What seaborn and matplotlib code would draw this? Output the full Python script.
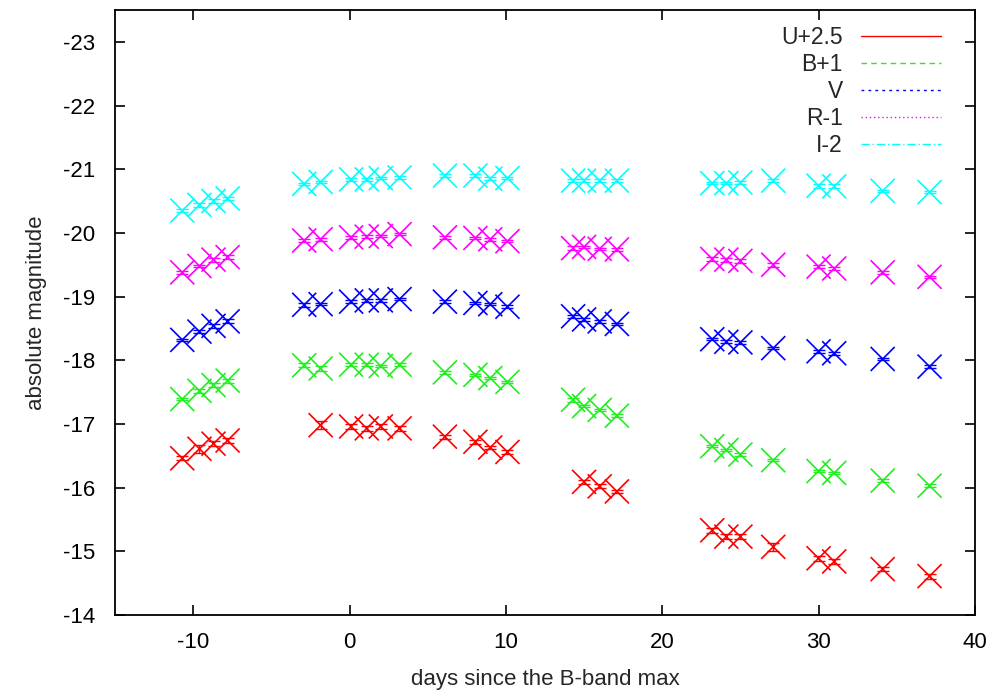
import numpy as np
import pandas as pd
import matplotlib
matplotlib.use("Agg")
import matplotlib.pyplot as plt
import seaborn as sns
from matplotlib.lines import Line2D

# epochs (days since B max) and plotted magnitudes (offsets already applied)
days_u = [-10.7, -9.6, -8.7, -7.8, -1.85, 0.1, 1.1, 2.0, 3.2, 6.1, 8.05, 9.0, 10.1,
          15.0, 16.0, 17.1, 23.2, 24.1, 25.0, 27.1, 30.0, 31.0, 34.1, 37.1]
mag_u = [-16.46, -16.61, -16.69, -16.74, -16.98, -16.96, -16.93, -16.96, -16.93, -16.80,
         -16.72, -16.63, -16.56, -16.09, -16.02, -15.94, -15.33, -15.23, -15.23, -15.07,
         -14.89, -14.84, -14.72, -14.61]
err_u = [0.03, 0.06, 0.04, 0.04, 0.06, 0.04, 0.04, 0.04, 0.04, 0.03, 0.03, 0.03, 0.03,
         0.03, 0.03, 0.03, 0.04, 0.04, 0.04, 0.06, 0.04, 0.04, 0.03, 0.04]

days = [-10.7, -9.6, -8.7, -7.8, -2.9, -1.85, 0.1, 1.1, 2.0, 3.2, 6.1, 8.05, 9.0, 10.1,
        14.3, 15.0, 16.0, 17.1, 23.2, 24.1, 25.0, 27.1, 30.0, 31.0, 34.1, 37.1]
mag_b = [-17.39, -17.52, -17.61, -17.68, -17.92, -17.87, -17.93, -17.93, -17.91, -17.93,
         -17.81, -17.77, -17.72, -17.66, -17.38, -17.28, -17.22, -17.13, -16.65, -16.59,
         -16.52, -16.43, -16.26, -16.23, -16.11, -16.03]
mag_v = [-18.32, -18.45, -18.54, -18.61, -18.87, -18.88, -18.92, -18.94, -18.94, -18.96,
         -18.92, -18.90, -18.88, -18.84, -18.69, -18.64, -18.61, -18.57, -18.33, -18.29,
         -18.28, -18.19, -18.14, -18.11, -18.02, -17.90]
mag_r = [-19.38, -19.48, -19.58, -19.62, -19.88, -19.90, -19.93, -19.94, -19.95, -19.98,
         -19.93, -19.92, -19.90, -19.87, -19.76, -19.78, -19.75, -19.74, -19.59, -19.58,
         -19.56, -19.50, -19.47, -19.44, -19.38, -19.31]
mag_i = [-20.35, -20.44, -20.50, -20.54, -20.77, -20.80, -20.84, -20.84, -20.86, -20.87,
         -20.90, -20.90, -20.85, -20.86, -20.82, -20.82, -20.82, -20.82, -20.78, -20.78,
         -20.79, -20.82, -20.74, -20.73, -20.66, -20.64]
err_b = [0.02, 0.03, 0.03, 0.03, 0.03, 0.04, 0.02, 0.02, 0.02, 0.02, 0.02, 0.02, 0.02, 0.02,
         0.03, 0.02, 0.02, 0.02, 0.02, 0.02, 0.02, 0.02, 0.02, 0.02, 0.02, 0.02]
err_v = [0.02, 0.03, 0.03, 0.03, 0.03, 0.02, 0.02, 0.02, 0.02, 0.02, 0.02, 0.02, 0.02, 0.02,
         0.02, 0.03, 0.02, 0.02, 0.02, 0.02, 0.02, 0.02, 0.02, 0.02, 0.02, 0.02]
err_r = [0.02, 0.02, 0.03, 0.03, 0.02, 0.02, 0.02, 0.02, 0.02, 0.02, 0.02, 0.02, 0.02, 0.02,
         0.03, 0.02, 0.02, 0.02, 0.03, 0.03, 0.03, 0.03, 0.02, 0.02, 0.02, 0.02]
err_i = [0.02, 0.03, 0.03, 0.03, 0.02, 0.02, 0.02, 0.02, 0.02, 0.02, 0.02, 0.02, 0.02, 0.02,
         0.02, 0.02, 0.02, 0.02, 0.02, 0.02, 0.02, 0.02, 0.03, 0.03, 0.02, 0.02]

bands = ["U+2.5", "B+1", "V", "R-1", "I-2"]
colors = ["#ff0000", "#22ee22", "#0000ff", "#ff00ff", "#00ffff"]
styles = ["-", (0, (4, 3)), (0, (2, 3)), (0, (1, 2)), (0, (6, 2, 1, 2))]

frames = []
for band, d, m, e in zip(bands, [days_u, days, days, days, days],
                         [mag_u, mag_b, mag_v, mag_r, mag_i],
                         [err_u, err_b, err_v, err_r, err_i]):
    frames.append(pd.DataFrame({"day": d, "mag": m, "err": e, "band": band}))
df = pd.concat(frames, ignore_index=True)

sns.set_style("ticks")
plt.rcParams["font.family"] = ["Liberation Sans", "DejaVu Sans"]
plt.rcParams["axes.unicode_minus"] = False

fig = plt.figure(figsize=(10.03, 6.93), dpi=100)
ax = fig.add_axes([0.1147, 0.1126, 0.8573, 0.873])

palette = dict(zip(bands, colors))
for band in bands:
    sub = df[df["band"] == band]
    ax.errorbar(sub["day"], sub["mag"], yerr=sub["err"], fmt="none",
                ecolor=palette[band], elinewidth=1, capsize=4, capthick=1)
sns.scatterplot(data=df, x="day", y="mag", hue="band", palette=palette,
                marker="x", s=300, linewidth=1.2, legend=False, ax=ax)

ax.set_xlim(-15, 40)
ax.set_ylim(-14, -23.5)
ax.set_xticks([-10, 0, 10, 20, 30, 40])
ax.set_yticks(np.arange(-14, -24, -1))
ax.tick_params(direction="in", length=7, width=1.2, top=True, right=True,
               labelsize=16, colors="black")
ax.tick_params(axis="x", pad=12)
ax.tick_params(axis="y", pad=14)
for s in ax.spines.values():
    s.set_linewidth(1.3)
    s.set_color("black")
ax.set_xlabel("days since the B-band max", fontsize=16, labelpad=12)
ax.set_ylabel("absolute magnitude", fontsize=16, labelpad=12)

handles = [Line2D([0], [0], color=c, lw=1, linestyle=ls) for c, ls in zip(colors, styles)]
ax.legend(handles, bands, loc="upper right", bbox_to_anchor=(0.985, 1.008),
          frameon=False, markerfirst=False, fontsize=16.5, handlelength=3.5,
          handletextpad=0.8, labelspacing=0.18, borderaxespad=0.5)

fig.savefig("out.png", dpi=100)
